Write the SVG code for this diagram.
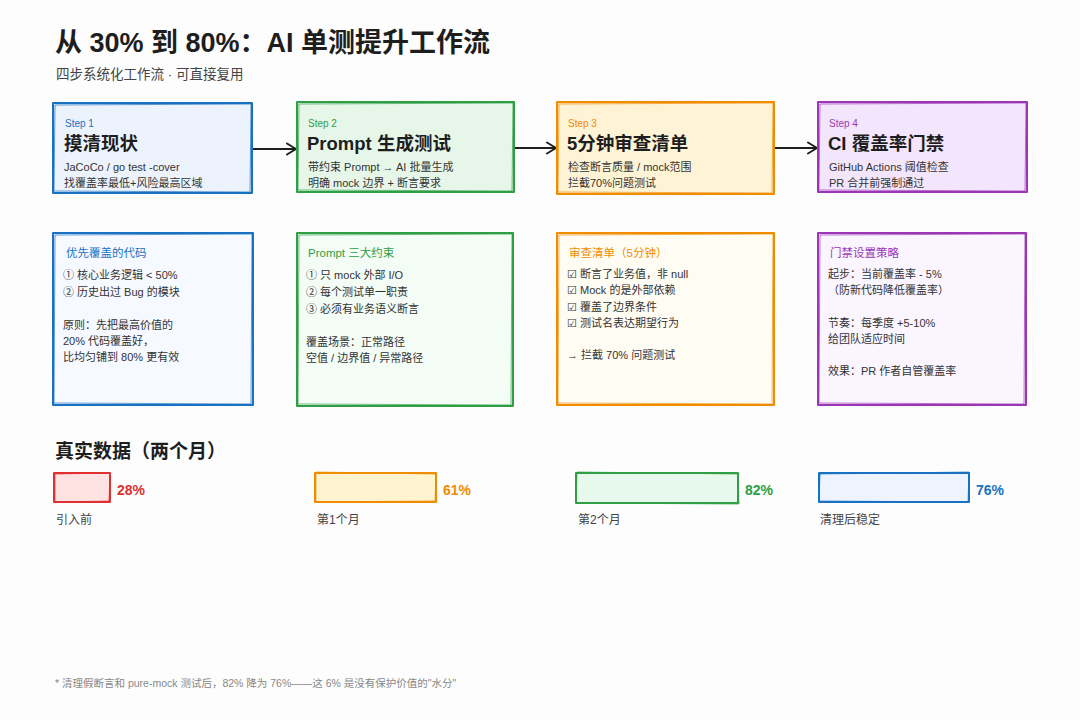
<svg xmlns="http://www.w3.org/2000/svg" width="1080" height="720" viewBox="0 0 1080 720">
<defs>
<style>
text{font-family:"Liberation Sans","Noto Sans CJK SC",sans-serif;fill:#2b2b2b}
.title{font-size:27px;font-weight:bold;fill:#1e1e1e}
.sub{font-size:13.5px;fill:#444}
.step{font-size:10px}
.h{font-size:18.5px;font-weight:bold;fill:#1e1e1e}
.t{font-size:11px;fill:#333}
.dh{font-size:11.5px}
.dt{font-size:11px;fill:#333}
.pct{font-size:14px;font-weight:bold}
.lab{font-size:12px;fill:#444}
.foot{font-size:10.5px;fill:#888}
.blue{stroke:#1971c2}
.green{stroke:#2f9e44}
.orange{stroke:#f08c00}
.purple{stroke:#9c36b5}
.red{stroke:#e03131}
.box{stroke-width:2;stroke-linejoin:round}
.sk{fill:none;stroke-width:1;opacity:.7}
.conn{stroke:#1e1e1e;stroke-width:2;fill:none;stroke-linecap:round;stroke-linejoin:round}
</style>
<marker id="ah" markerWidth="14" markerHeight="14" refX="11" refY="7" orient="auto" markerUnits="userSpaceOnUse">
<path d="M2,1.5 L11,7 L2,12.5" fill="none" stroke="#1e1e1e" stroke-width="2" stroke-linecap="round" stroke-linejoin="round"/>
</marker>
</defs>
<rect x="0" y="0" width="1080" height="720" fill="#fdfdfd"/>

<g id="header">
<text class="title" x="55" y="52">从 30% 到 80%：AI 单测提升工作流</text>
<text class="sub" x="56" y="79">四步系统化工作流 · 可直接复用</text>
</g>

<g id="connectors">
<path class="conn" d="M253,149 L296,149" marker-end="url(#ah)"/>
<path class="conn" d="M515,148 L556,148" marker-end="url(#ah)"/>
<path class="conn" d="M775,148 L817,148" marker-end="url(#ah)"/>
</g>

<g id="step1">
<rect class="box blue" x="53" y="103" width="199" height="90" fill="#edf3fd"/>
<path class="sk blue" d="M55,105 L251,104 L250,192 L54,191 Z"/>
<text class="step" x="65" y="127" style="fill:#1971c2">Step 1</text>
<text class="h" x="64" y="150">摸清现状</text>
<text class="t" x="64" y="171">JaCoCo / go test -cover</text>
<text class="t" x="64" y="187">找覆盖率最低+风险最高区域</text>
</g>

<g id="step2">
<rect class="box green" x="297" y="102" width="217" height="90" fill="#e6f7ea"/>
<path class="sk green" d="M299,104 L513,103 L512,191 L298,190 Z"/>
<text class="step" x="308" y="127" style="fill:#2f9e44">Step 2</text>
<text class="h" x="307" y="150">Prompt 生成测试</text>
<text class="t" x="308" y="171">带约束 Prompt → AI 批量生成</text>
<text class="t" x="308" y="187">明确 mock 边界 + 断言要求</text>
</g>

<g id="step3">
<rect class="box orange" x="557" y="102" width="217" height="92" fill="#fff3d6"/>
<path class="sk orange" d="M559,104 L773,103 L772,193 L558,192 Z"/>
<text class="step" x="568" y="127" style="fill:#f08c00">Step 3</text>
<text class="h" x="567" y="150">5分钟审查清单</text>
<text class="t" x="568" y="171">检查断言质量 / mock范围</text>
<text class="t" x="568" y="187">拦截70%问题测试</text>
</g>

<g id="step4">
<rect class="box purple" x="818" y="102" width="209" height="90" fill="#f3e6fc"/>
<path class="sk purple" d="M820,104 L1026,103 L1025,191 L819,190 Z"/>
<text class="step" x="829" y="127" style="fill:#9c36b5">Step 4</text>
<text class="h" x="828" y="150">CI 覆盖率门禁</text>
<text class="t" x="829" y="171">GitHub Actions 阈值检查</text>
<text class="t" x="829" y="187">PR 合并前强制通过</text>
</g>

<g id="detail1">
<rect class="box blue" x="53" y="233" width="200" height="172" fill="#f6f9ff"/>
<path class="sk blue" d="M55,235 L252,234 L251,404 L54,403 Z"/>
<text class="dh" x="66" y="257" style="fill:#1971c2">优先覆盖的代码</text>
<text class="dt" x="63" y="279">① 核心业务逻辑 &lt; 50%</text>
<text class="dt" x="63" y="296">② 历史出过 Bug 的模块</text>
<text class="dt" x="63" y="329">原则：先把最高价值的</text>
<text class="dt" x="63" y="345">20% 代码覆盖好，</text>
<text class="dt" x="63" y="361">比均匀铺到 80% 更有效</text>
</g>

<g id="detail2">
<rect class="box green" x="297" y="233" width="216" height="173" fill="#f3fcf5"/>
<path class="sk green" d="M299,235 L512,234 L511,405 L298,404 Z"/>
<text class="dh" x="308" y="257" style="fill:#2f9e44">Prompt 三大约束</text>
<text class="dt" x="306" y="279">① 只 mock 外部 I/O</text>
<text class="dt" x="306" y="296">② 每个测试单一职责</text>
<text class="dt" x="306" y="313">③ 必须有业务语义断言</text>
<text class="dt" x="306" y="346">覆盖场景：正常路径</text>
<text class="dt" x="306" y="362">空值 / 边界值 / 异常路径</text>
</g>

<g id="detail3">
<rect class="box orange" x="557" y="233" width="217" height="172" fill="#fffcf4"/>
<path class="sk orange" d="M559,235 L773,234 L772,404 L558,403 Z"/>
<text class="dh" x="569" y="257" style="fill:#f08c00">审查清单（5分钟）</text>
<text class="dt" x="567" y="278">☑ 断言了业务值，非 null</text>
<text class="dt" x="567" y="294">☑ Mock 的是外部依赖</text>
<text class="dt" x="567" y="311">☑ 覆盖了边界条件</text>
<text class="dt" x="567" y="327">☑ 测试名表达期望行为</text>
<text class="dt" x="567" y="359">→ 拦截 70% 问题测试</text>
</g>

<g id="detail4">
<rect class="box purple" x="818" y="233" width="208" height="172" fill="#faf5ff"/>
<path class="sk purple" d="M820,235 L1025,234 L1024,404 L819,403 Z"/>
<text class="dh" x="830" y="257" style="fill:#9c36b5">门禁设置策略</text>
<text class="dt" x="828" y="278">起步：当前覆盖率 - 5%</text>
<text class="dt" x="828" y="294">（防新代码降低覆盖率）</text>
<text class="dt" x="828" y="327">节奏：每季度 +5-10%</text>
<text class="dt" x="828" y="343">给团队适应时间</text>
<text class="dt" x="828" y="375">效果：PR 作者自管覆盖率</text>
</g>

<g id="data-heading">
<text class="h" x="55" y="458" style="font-size:19px">真实数据（两个月）</text>
</g>

<g id="bar1">
<rect class="box red" x="54" y="473" width="56" height="29" fill="#ffe3e3"/>
<path class="sk red" d="M55,474 L110,473 L109,501 L55,502 Z"/>
<text class="pct" x="117" y="495" style="fill:#e03131">28%</text>
<text class="lab" x="56" y="524">引入前</text>
</g>

<g id="bar2">
<rect class="box orange" x="315" y="473" width="121" height="29" fill="#fff3d0"/>
<path class="sk orange" d="M316,472 L436,474 L435,501 L316,502 Z"/>
<text class="pct" x="443" y="495" style="fill:#f08c00">61%</text>
<text class="lab" x="317" y="524">第1个月</text>
</g>

<g id="bar3">
<rect class="box green" x="576" y="473" width="162" height="30" fill="#e6f9ec"/>
<path class="sk green" d="M577,472 L738,474 L739,504 L576,503 Z"/>
<text class="pct" x="745" y="495" style="fill:#2f9e44">82%</text>
<text class="lab" x="578" y="524">第2个月</text>
</g>

<g id="bar4">
<rect class="box blue" x="819" y="473" width="150" height="29" fill="#eef4ff"/>
<path class="sk blue" d="M820,474 L969,472 L968,502 L819,501 Z"/>
<text class="pct" x="976" y="495" style="fill:#1971c2">76%</text>
<text class="lab" x="820" y="524">清理后稳定</text>
</g>

<g id="footnote">
<text class="foot" x="55" y="687">* 清理假断言和 pure-mock 测试后，82% 降为 76%——这 6% 是没有保护价值的"水分"</text>
</g>
</svg>
